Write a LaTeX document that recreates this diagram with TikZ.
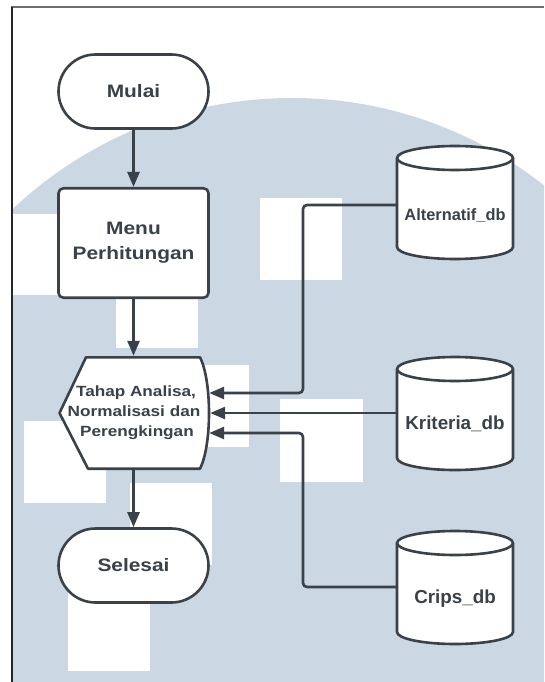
\documentclass[tikz,border=0pt]{standalone}
\usepackage{fontspec}
\setmainfont{Liberation Sans}
\newfontfamily\flowfont{Liberation Sans}[FakeStretch=1.16]
\usetikzlibrary{arrows.meta,shapes.misc}

\definecolor{ink}{HTML}{3B4149}
\definecolor{wash}{HTML}{CBD7E3}
\definecolor{framegray}{HTML}{6E6E6E}

% database drum: #1 = centre x, #2 = top y
\newcommand\dbdrum[2]{%
  \filldraw[drum] ({#1-58},{#2+12}) -- ({#1-58},{#2+101})
    arc[start angle=180, end angle=360, x radius=58pt, y radius=12pt]
    -- ({#1+58},{#2+12})
    arc[start angle=0, end angle=180, x radius=58pt, y radius=12pt] -- cycle;
  \draw[drum] ({#1-58},{#2+12})
    arc[start angle=180, end angle=360, x radius=58pt, y radius=12pt];
}

\begin{document}
\begin{tikzpicture}[x=1pt, y=-1pt,
  outline/.style={draw=ink, line width=2.6pt, fill=white},
  bigtext/.style={font=\flowfont\bfseries\fontsize{18pt}{25pt}\selectfont, text=ink, align=center},
  terminal/.style={outline, bigtext, rounded rectangle, minimum width=150pt, minimum height=74pt, inner sep=0pt},
  process/.style={outline, bigtext, rectangle, rounded corners=5pt, minimum width=150pt, minimum height=109.5pt, inner sep=0pt},
  display/.style={font=\flowfont\bfseries\fontsize{14.8pt}{20pt}\selectfont, text=ink, align=center, minimum width=152pt, minimum height=114pt, inner sep=0pt},
  drum/.style={draw=ink, line width=2.6pt, fill=white, line join=round},
  dblabel/.style={font=\bfseries\fontsize{18.8pt}{22pt}\selectfont, text=ink, minimum width=116pt, inner sep=0pt},
  flow/.style={draw=ink, line width=2.6pt, -{Triangle[length=15pt,width=12pt]}},
  link/.style={flow, rounded corners=4pt},
]
\useasboundingbox (0,0) rectangle (544,682);

% backdrop: pale disc with white tiles
\begin{scope}
  \clip (12,7) rectangle (544,682);
  \fill[wash] (292,505) circle[radius=407pt];
  \fill[white] (12,214) rectangle (116,295);
  \fill[white] (260,198) rectangle (342,280);
  \fill[white] (116,266) rectangle (198,348);
  \fill[white] (167,365) rectangle (249,447);
  \fill[white] (280,399) rectangle (363,482);
  \fill[white] (24,421) rectangle (106,503);
  \fill[white] (130,483) rectangle (212,565);
  \fill[white] (68,589) rectangle (150,671);
\end{scope}

% page frame
\draw[framegray, line width=2pt] (11,7) -- (544,7);
\draw[black!85, line width=1.3pt] (12,7) -- (12,682);

% main flow
\node[terminal] (mulai) at (133.5,91.5) {Mulai};
\node[process] (menu) at (133.5,243) {Menu\\Perhitungan};

\filldraw[outline, line join=round] (86,357.3) -- (200,357.3)
  .. controls (212,381) and (212,445) .. (200,468.7)
  -- (88,468.7) -- (59.5,413) -- cycle;
\node[display] (tahap) at (134,413) {\hspace*{4pt}Tahap Analisa,\\Normalisasi dan\\\hspace*{6pt}Perengkingan};

\node[terminal] (selesai) at (133.5,565.5) {Selesai};

% data stores
\dbdrum{455}{146}
\dbdrum{455}{357}
\dbdrum{455}{531}
\node[dblabel, font=\bfseries\fontsize{16.4pt}{20pt}\selectfont] (alt) at (455,216) {Alternatif\_db};
\node[dblabel] (kri) at (455,424) {Kriteria\_db};
\node[dblabel] (crips) at (455,599) {Crips\_db};

\coordinate (bus) at (303,413);

% connectors
\draw[flow] (mulai.south) -- (menu.north);
\draw[flow] (menu.south) -- (menu.south |- tahap.north);
\draw[flow] (selesai.north |- tahap.south) -- (selesai.north);

\draw[link] ([yshift=11pt]alt.west) -| ([yshift=20pt]bus) -- ([yshift=20pt,xshift=-1pt]tahap.east);
\draw[flow] ([yshift=11pt]kri.west) -- (tahap.east);
\draw[link] ([yshift=12pt]crips.west) -| ([yshift=-20pt]bus) -- ([yshift=-20pt,xshift=-1pt]tahap.east);
\end{tikzpicture}
\end{document}
